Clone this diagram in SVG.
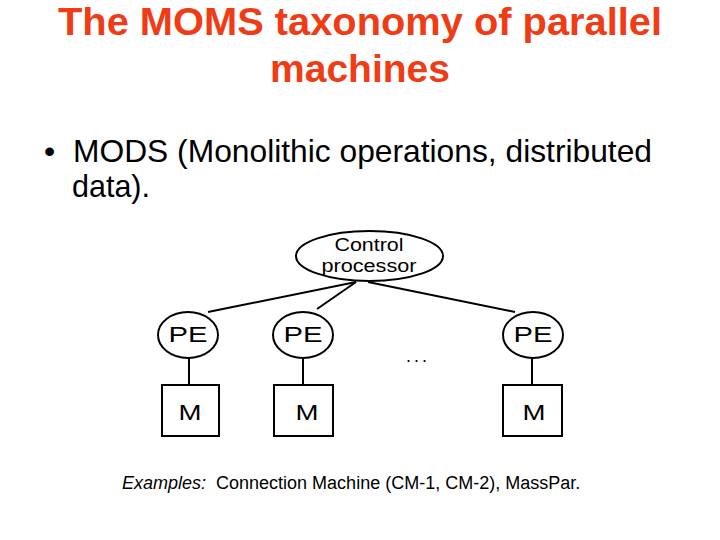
<svg xmlns="http://www.w3.org/2000/svg" width="720" height="540" viewBox="0 0 720 540">
<style>
.title{font-family:"Liberation Sans",Arial,sans-serif;font-weight:bold;font-size:39px;fill:#F03C14;text-anchor:middle}
.body{font-family:"Liberation Sans",Arial,sans-serif;font-size:32px;fill:#000}
.lbl{font-family:"Liberation Sans",Arial,sans-serif;font-size:22px;fill:#000;text-anchor:middle}
.cp{font-family:"Liberation Sans",Arial,sans-serif;font-size:18px;fill:#000;text-anchor:middle}
.ex{font-family:"Liberation Sans",Arial,sans-serif;font-size:18px;fill:#000}
.shape{fill:#fff;stroke:#000;stroke-width:2}
.conn{stroke:#000;stroke-width:2;fill:none}
</style>
<rect width="720" height="540" fill="#fff"/>
<text class="title" x="360" y="35" textLength="604" lengthAdjust="spacingAndGlyphs">The MOMS taxonomy of parallel</text>
<text class="title" x="360" y="82">machines</text>
<text class="body" x="44" y="162">•</text>
<text class="body" x="73" y="162" textLength="579" lengthAdjust="spacingAndGlyphs">MODS (Monolithic operations, distributed</text>
<text class="body" x="72" y="197" textLength="78" lengthAdjust="spacingAndGlyphs">data).</text>
<g id="connectors">
<line class="conn" x1="356" y1="282" x2="208" y2="312"/>
<line class="conn" x1="356" y1="282" x2="317" y2="309"/>
<line class="conn" x1="368" y1="282" x2="515" y2="312"/>
<line class="conn" x1="189" y1="357" x2="189" y2="385"/>
<line class="conn" x1="303" y1="357" x2="303" y2="385"/>
<line class="conn" x1="532" y1="357" x2="532" y2="385"/>
</g>
<g id="control">
<ellipse class="shape" cx="369.5" cy="256" rx="73.5" ry="25"/>
<text class="cp" x="369" y="251" textLength="69" lengthAdjust="spacingAndGlyphs">Control</text>
<text class="cp" x="369" y="272" textLength="95" lengthAdjust="spacingAndGlyphs">processor</text>
</g>
<g id="pe1">
<ellipse class="shape" cx="188" cy="335" rx="30" ry="23"/>
<text class="lbl" x="188" y="342" textLength="39" lengthAdjust="spacingAndGlyphs">PE</text>
</g>
<g id="pe2">
<ellipse class="shape" cx="303" cy="335" rx="30" ry="23"/>
<text class="lbl" x="303" y="342" textLength="39" lengthAdjust="spacingAndGlyphs">PE</text>
</g>
<g id="pe3">
<ellipse class="shape" cx="533" cy="335" rx="30" ry="23"/>
<text class="lbl" x="533" y="342" textLength="39" lengthAdjust="spacingAndGlyphs">PE</text>
</g>
<g id="m1">
<rect class="shape" x="162" y="385" width="57" height="51"/>
<text class="lbl" x="190" y="420" textLength="23" lengthAdjust="spacingAndGlyphs">M</text>
</g>
<g id="m2">
<rect class="shape" x="274" y="385" width="59" height="51"/>
<text class="lbl" x="307" y="420" textLength="23" lengthAdjust="spacingAndGlyphs">M</text>
</g>
<g id="m3">
<rect class="shape" x="503" y="385" width="59" height="51"/>
<text class="lbl" x="534" y="420" textLength="23" lengthAdjust="spacingAndGlyphs">M</text>
</g>
<text class="cp" x="418" y="362" style="letter-spacing:3px">...</text>
<text class="ex" x="122" y="489" xml:space="preserve"><tspan font-style="italic">Examples:</tspan>  Connection Machine (CM-1, CM-2), MassPar.</text>
</svg>
